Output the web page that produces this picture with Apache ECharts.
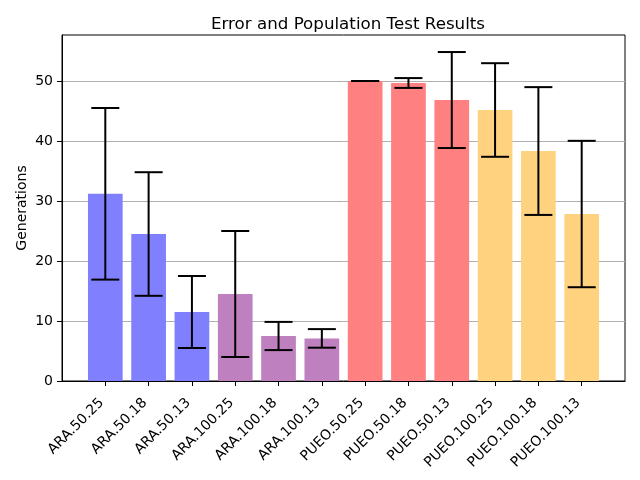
<!DOCTYPE html>
<html>
<head>
<meta charset="utf-8">
<script src="https://cdn.jsdelivr.net/npm/echarts@6/dist/echarts.min.js"></script>
<style>html,body{margin:0;padding:0;background:#fff}#c{width:640px;height:480px}</style>
</head>
<body>
<div id="c"></div>
<script>
const categories = ['ARA.50.25','ARA.50.18','ARA.50.13','ARA.100.25','ARA.100.18','ARA.100.13',
  'PUEO.50.25','PUEO.50.18','PUEO.50.13','PUEO.100.25','PUEO.100.18','PUEO.100.13'];
const means = [31.2, 24.5, 11.5, 14.5, 7.5, 7.1, 50, 49.67, 46.83, 45.17, 38.33, 27.83];
const errors = [14.3, 10.3, 6.0, 10.5, 2.35, 1.55, 0, 0.82, 8.0, 7.8, 10.65, 12.2];
const barColors = ['#8080ff','#8080ff','#8080ff','#bf80bf','#bf80bf','#bf80bf',
  '#ff8080','#ff8080','#ff8080','#ffd280','#ffd280','#ffd280'];
const yTicks = [0, 10, 20, 30, 40, 50];

const idx = categories.map((_, i) => i);
const FONT = 'DejaVu Sans';

const chart = echarts.init(document.getElementById('c'), null, {renderer: 'canvas'});
chart.setOption({
  animation: false,
  backgroundColor: '#fff',
  title: {
    text: 'Error and Population Test Results',
    left: 343, top: 11, textAlign: 'center',
    textStyle: {fontFamily: FONT, fontSize: 16.7, fontWeight: 'normal', color: '#000'}
  },
  grid: {left: 62, right: 15, top: 35, bottom: 99, show: true, borderColor: '#000', borderWidth: 1, backgroundColor: '#fff'},
  xAxis: {
    type: 'value', min: -1, max: 12, interval: 1,
    axisLine: {show: true, onZero: false, lineStyle: {color: '#000', width: 1}},
    axisTick: {show: true, customValues: idx, length: 5, lineStyle: {color: '#000'}},
    axisLabel: {
      customValues: idx, rotate: 45, margin: 16, padding: [0, 5, 0, 0],
      formatter: v => categories[Math.round(v)] || '',
      fontFamily: FONT, fontSize: 14, color: '#000'
    },
    splitLine: {show: false}
  },
  yAxis: {
    type: 'value', min: 0, max: 57.67, interval: 10,
    name: 'Generations', nameLocation: 'middle', nameGap: 33, nameRotate: 90, nameMoveOverlap: false,
    nameTextStyle: {fontFamily: FONT, fontSize: 14, color: '#000'},
    axisLine: {show: true, onZero: false, lineStyle: {color: '#000', width: 1}},
    axisTick: {show: true, customValues: yTicks, length: 5, lineStyle: {color: '#000'}},
    axisLabel: {customValues: yTicks, margin: 9, fontFamily: FONT, fontSize: 14, color: '#000'},
    splitLine: {show: true, lineStyle: {color: '#b0b0b0', width: 1}}
  },
  series: [
    {
      type: 'bar',
      barWidth: 34.7,
      data: idx.map(i => ({value: [i, means[i]], itemStyle: {color: barColors[i]}})),
      z: 2
    },
    {
      type: 'custom',
      z: 3,
      data: idx.map(i => [i, means[i] - errors[i], means[i] + errors[i]]),
      renderItem: function (params, api) {
        const x = api.value(0);
        const pLo = api.coord([x, api.value(1)]);
        const pHi = api.coord([x, api.value(2)]);
        const hw = 14;
        const st = {stroke: '#000', lineWidth: 2};
        return {
          type: 'group',
          children: [
            {type: 'line', shape: {x1: pLo[0], y1: pLo[1], x2: pHi[0], y2: pHi[1]}, style: st},
            {type: 'line', shape: {x1: pHi[0] - hw, y1: pHi[1], x2: pHi[0] + hw, y2: pHi[1]}, style: st},
            {type: 'line', shape: {x1: pLo[0] - hw, y1: pLo[1], x2: pLo[0] + hw, y2: pLo[1]}, style: st}
          ]
        };
      }
    }
  ]
});
</script>
</body>
</html>
